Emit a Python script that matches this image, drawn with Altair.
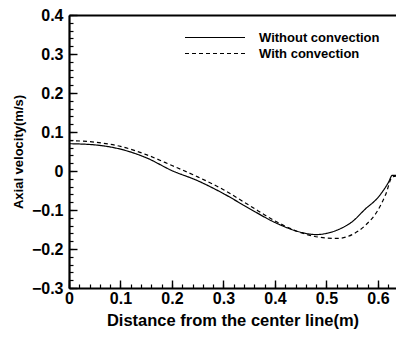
import altair as alt
import pandas as pd

# --- data ---
x_without = [0.0, 0.05, 0.1, 0.15, 0.2, 0.25, 0.3, 0.35, 0.4, 0.45, 0.48, 0.5, 0.53, 0.55, 0.575, 0.6, 0.62, 0.628, 0.65]
y_without = [0.070, 0.067, 0.056, 0.034, 0.001, -0.025, -0.058, -0.096, -0.132, -0.157, -0.163, -0.160, -0.146, -0.130, -0.098, -0.068, -0.030, -0.011, -0.011]

x_with = [0.0, 0.05, 0.1, 0.15, 0.2, 0.25, 0.3, 0.35, 0.4, 0.45, 0.5, 0.52, 0.55, 0.575, 0.6, 0.615, 0.628, 0.65]
y_with = [0.078, 0.074, 0.063, 0.042, 0.014, -0.015, -0.048, -0.088, -0.128, -0.158, -0.172, -0.173, -0.163, -0.140, -0.100, -0.060, -0.015, -0.011]

series_names = ["Without convection", "With convection"]

x_major = [0.0, 0.1, 0.2, 0.3, 0.4, 0.5, 0.6]
y_major = [-0.3, -0.2, -0.1, 0.0, 0.1, 0.2, 0.3, 0.4]
x_minor = [round(i * 0.02, 2) for i in range(0, 32)]
y_minor = [round(-0.3 + i * 0.02, 2) for i in range(0, 36)]

X_MAX = 0.635
Y_MIN, Y_MAX = -0.3, 0.4
W, H = 327, 273
FONT = "Liberation Sans"

df = pd.concat([
    pd.DataFrame({"x": x_without, "y": y_without, "s": series_names[0]}),
    pd.DataFrame({"x": x_with, "y": y_with, "s": series_names[1]}),
])

xs = alt.Scale(domain=[0, X_MAX], nice=False, zero=False)
ys = alt.Scale(domain=[Y_MIN, Y_MAX], nice=False, zero=False)

lab = "datum.value == 0 ? '0' : format(datum.value, '.1f')"

base = alt.Chart(df)

# main layer: curves, labels, axis lines, titles, legend
curves = base.mark_line(color="black", strokeWidth=1.2, interpolate="monotone", clip=True).encode(
    x=alt.X("x:Q", scale=xs, axis=alt.Axis(
        orient="bottom", title="Distance from the center line(m)", values=x_major, labelExpr=lab,
        labelPadding=2, titlePadding=6, labelFlush=False, labelOverlap=False, ticks=False)),
    y=alt.Y("y:Q", scale=ys, axis=alt.Axis(
        orient="left", title="Axial velocity(m/s)", values=y_major, labelExpr=lab,
        labelPadding=6, titlePadding=6, labelFlush=False, labelOverlap=False, ticks=False)),
    strokeDash=alt.StrokeDash("s:N", scale=alt.Scale(domain=series_names, range=[[1, 0], [4, 3]]),
                              legend=alt.Legend(title=None, orient="none", legendX=137.5, legendY=14,
                                                symbolType="M-4,0H4", symbolSize=225,
                                                symbolStrokeColor="black", symbolStrokeWidth=1.2,
                                                labelFont=FONT, labelFontWeight="bold", labelFontSize=13,
                                                labelOffset=35.5, rowPadding=-1, padding=0)),
    detail="s:N",
)


def tick_layer(xvals, yvals, size, width):
    # an invisible copy of the curves that only carries inward-pointing tick axes
    return base.mark_line(opacity=0).encode(
        x=alt.X("x:Q", scale=xs, axis=alt.Axis(
            orient="bottom", values=xvals, offset=-size, tickSize=size, ticks=True,
            tickWidth=width, tickColor="black", domain=False, labels=False, title="", grid=False)),
        y=alt.Y("y:Q", scale=ys, axis=alt.Axis(
            orient="left", values=yvals, offset=-size, tickSize=size, ticks=True,
            tickWidth=width, tickColor="black", domain=False, labels=False, title="", grid=False)),
        detail="s:N",
    )


major = tick_layer(x_major, y_major, 8, 1.4)
minor = tick_layer(x_minor, y_minor, 4, 1.2)

# top frame line as a domain-only top axis
topline = base.mark_line(opacity=0).encode(
    x=alt.X("x:Q", scale=xs, axis=alt.Axis(
        orient="top", domain=True, domainWidth=2.2, domainColor="black",
        ticks=False, labels=False, title="", grid=False)),
    y=alt.Y("y:Q", scale=ys, axis=None),
    detail="s:N",
)

chart = alt.layer(curves, major, minor, topline).resolve_axis(
    x="independent", y="independent"
).properties(
    width=W, height=H,
    autosize=alt.AutoSizeParams(type="none"),
    padding={"left": 61, "top": 7, "right": 0, "bottom": 41},
).configure_view(stroke=None).configure_axis(
    domainColor="black", domainWidth=2.2, grid=False,
    labelFont=FONT, labelFontWeight="bold", labelFontSize=16, labelColor="black",
    titleFont=FONT, titleFontWeight="bold", titleColor="black",
).configure_axisX(titleFontSize=16.5).configure_axisY(titleFontSize=13)

chart.save("out.html", embed_options={"renderer": "svg", "actions": False})
